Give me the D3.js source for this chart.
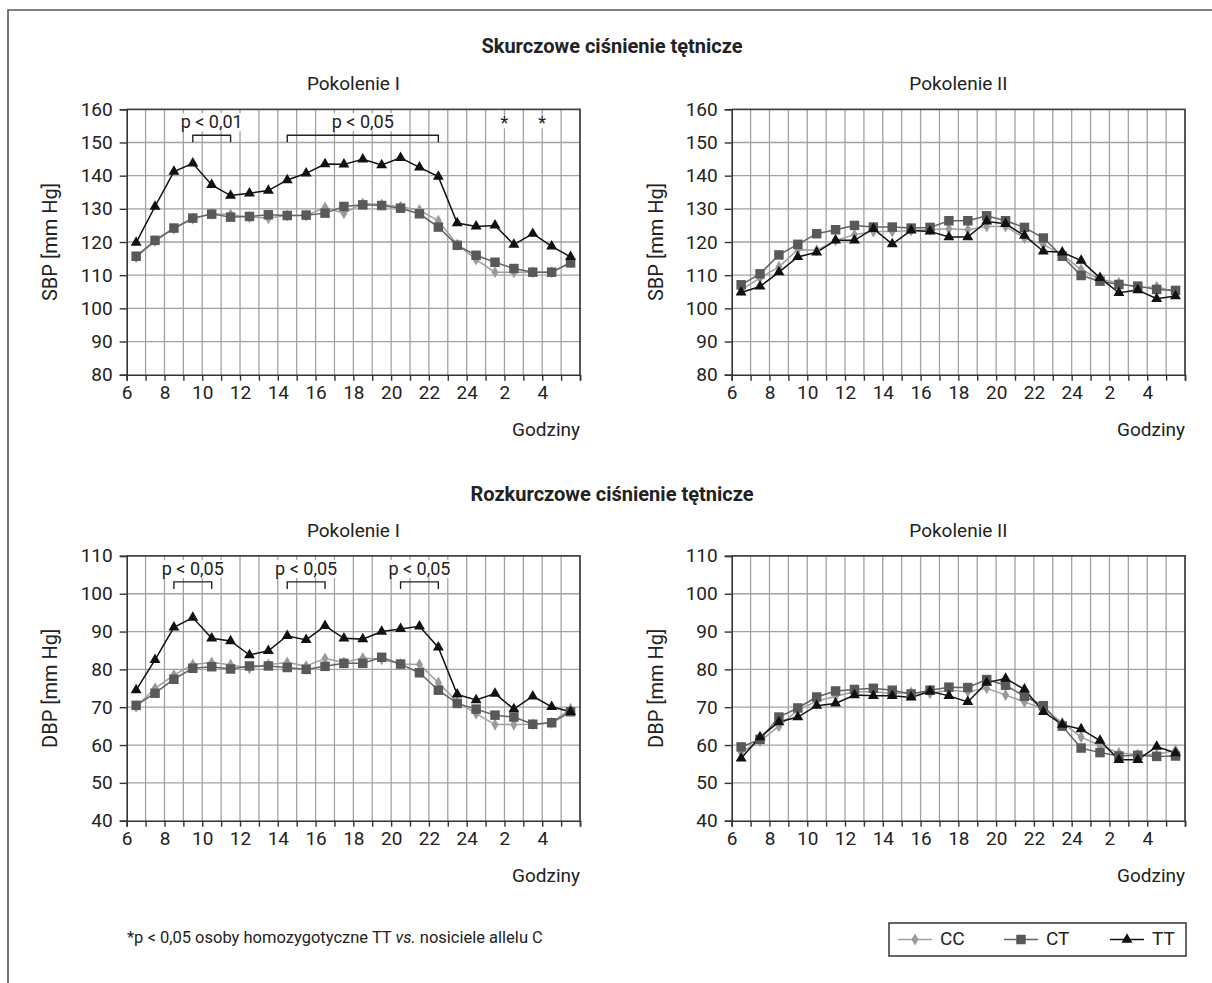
<!DOCTYPE html>
<html>
<head>
<meta charset="utf-8">
<script src="https://cdn.jsdelivr.net/npm/d3@7"></script>
<style>
  html, body { margin: 0; padding: 0; background: #fff; }
  svg text { font-family: Roboto, "Liberation Sans", sans-serif; fill: #222; }
</style>
</head>
<body>
<svg id="chart" width="1212" height="983"></svg>
<script>
// ---------- DATA ----------
const hours = [6.5, 7.5, 8.5, 9.5, 10.5, 11.5, 12.5, 13.5, 14.5, 15.5, 16.5, 17.5,
               18.5, 19.5, 20.5, 21.5, 22.5, 23.5, 24.5, 25.5, 26.5, 27.5, 28.5, 29.5];
const xTickLabels = ["6", "8", "10", "12", "14", "16", "18", "20", "22", "24", "2", "4"];
const sbpTicks = [80, 90, 100, 110, 120, 130, 140, 150, 160];
const dbpTicks = [40, 50, 60, 70, 80, 90, 100, 110];
const genotypes = ["CC", "CT", "TT"];

// SBP, Pokolenie I
const sbpGen1CC = [115.4, 120.3, 124.0, 127.0, 128.5, 128.3, 127.5, 127.2, 128.0, 128.0, 130.4, 128.7,
                   131.6, 131.3, 130.6, 129.6, 126.4, 119.2, 114.7, 110.9, 110.9, 110.9, 110.9, 113.9];
const sbpGen1CT = [115.7, 120.5, 124.2, 127.2, 128.4, 127.5, 127.7, 128.2, 128.0, 128.1, 128.7, 130.7,
                   131.2, 131.0, 130.2, 128.5, 124.5, 119.0, 116.0, 113.9, 112.0, 110.9, 110.9, 113.7];
const sbpGen1TT = [119.8, 130.7, 141.2, 143.7, 137.2, 134.0, 134.7, 135.5, 138.7, 140.7, 143.5, 143.4,
                   144.9, 143.2, 145.4, 142.5, 139.7, 125.7, 124.7, 125.0, 119.2, 122.5, 118.7, 115.5];
// SBP, Pokolenie II
const sbpGen2CC = [105.6, 109.1, 112.5, 117.7, 117.5, 120.5, 122.2, 123.2, 123.2, 123.5, 123.7, 124.0,
                   123.7, 124.7, 124.7, 121.2, 119.2, 116.2, 111.7, 108.7, 107.7, 106.2, 106.5, 105.0];
const sbpGen2CT = [107.1, 110.4, 116.1, 119.3, 122.5, 123.7, 125.0, 124.5, 124.5, 124.2, 124.4, 126.4,
                   126.4, 127.9, 126.4, 124.4, 121.2, 115.7, 109.9, 108.2, 107.2, 106.7, 105.7, 105.4];
const sbpGen2TT = [104.8, 106.6, 110.9, 115.5, 116.9, 120.5, 120.5, 124.0, 119.4, 123.5, 123.2, 121.5,
                   121.5, 126.2, 125.5, 121.9, 117.2, 116.9, 114.4, 109.2, 104.7, 105.5, 102.9, 103.7];
// DBP, Pokolenie I
const dbpGen1CC = [70.1, 75.0, 78.5, 81.3, 81.8, 81.2, 80.3, 81.3, 81.8, 80.9, 82.9, 81.8,
                   83.0, 82.7, 81.4, 81.3, 76.5, 71.4, 68.3, 65.4, 65.4, 65.5, 65.9, 69.6];
const dbpGen1CT = [70.5, 73.7, 77.4, 80.3, 80.7, 80.1, 80.9, 80.9, 80.5, 80.0, 80.8, 81.6,
                   81.6, 83.2, 81.4, 79.1, 74.5, 71.0, 69.5, 67.9, 67.4, 65.5, 65.9, 68.8];
const dbpGen1TT = [74.5, 82.5, 91.1, 93.7, 88.2, 87.5, 83.8, 84.9, 88.9, 87.8, 91.5, 88.2,
                   88.0, 90.0, 90.7, 91.4, 85.8, 73.4, 71.9, 73.6, 69.5, 72.9, 70.1, 68.8];
// DBP, Pokolenie II
const dbpGen2CC = [58.1, 61.0, 65.0, 69.2, 71.6, 72.9, 74.1, 74.1, 73.6, 73.9, 73.7, 74.5,
                   74.1, 75.0, 73.2, 71.4, 69.6, 65.9, 62.1, 59.9, 57.9, 57.5, 57.5, 58.6];
const dbpGen2CT = [59.5, 61.5, 67.4, 69.8, 72.7, 74.3, 74.7, 75.0, 74.5, 73.5, 74.5, 75.3,
                   75.2, 77.3, 75.8, 72.9, 70.4, 65.0, 59.2, 58.0, 57.1, 57.3, 57.0, 57.1];
const dbpGen2TT = [56.5, 62.1, 66.1, 67.4, 70.4, 71.0, 73.2, 73.0, 73.0, 72.6, 74.2, 73.0,
                   71.4, 76.5, 77.6, 74.7, 68.8, 65.4, 64.2, 61.2, 56.1, 56.1, 59.6, 57.9];

// Significance brackets: [from hour, to hour, label]
const sbpGen1Brackets = [[9.5, 11.5, "p < 0,01"], [14.5, 22.5, "p < 0,05"]];
const sbpGen1Stars = [26, 28];
const dbpGen1Brackets = [[8.5, 10.5, "p < 0,05"], [14.5, 16.5, "p < 0,05"], [20.5, 22.5, "p < 0,05"]];

// ---------- STYLE ----------
const style = {
  CC: { color: "#9a9a9a", line: "#a0a0a0", symbol: d3.symbolDiamond, size: 42 },
  CT: { color: "#595959", line: "#636363", symbol: d3.symbolSquare, size: 90 },
  TT: { color: "#111111", line: "#111111", symbol: d3.symbolTriangle, size: 52 }
};
const FS = 19;

const svg = d3.select("#chart");

// outer frame (left + top)
svg.append("path")
  .attr("d", "M8,983 L8,10 L1212,10")
  .attr("fill", "none").attr("stroke", "#555").attr("stroke-width", 1.6);

function fmtHour(h) { return h > 24 ? String(h - 24) : String(h); }

function panel(opts) {
  const { x0, x1, yTop, yBot, domain, yTicks, ylabel, ylabelX, title, series, brackets, stars } = opts;
  const g = svg.append("g");
  const x = d3.scaleLinear().domain([6, 30]).range([x0, x1]);
  const y = d3.scaleLinear().domain(domain).range([yBot, yTop]);
  const hourTicks = d3.range(6, 31);
  const labelled = hours.map(h => h - 0.5).filter(h => h % 2 === 0);

  // gridlines
  g.append("g").selectAll("line").data(hourTicks.slice(1, -1)).join("line")
    .attr("x1", d => x(d)).attr("x2", d => x(d)).attr("y1", yTop).attr("y2", yBot)
    .attr("stroke", "#a2a2a2").attr("stroke-width", 1.3);
  g.append("g").selectAll("line").data(yTicks.slice(1, -1)).join("line")
    .attr("x1", x0).attr("x2", x1).attr("y1", d => y(d)).attr("y2", d => y(d))
    .attr("stroke", "#a2a2a2").attr("stroke-width", 1.3);

  // frame top/right
  g.append("path").attr("d", `M${x0},${yTop} L${x1},${yTop} L${x1},${yBot}`)
    .attr("fill", "none").attr("stroke", "#444").attr("stroke-width", 1.8);

  // axes
  const yAxis = d3.axisLeft(y).tickValues(yTicks).tickSize(7).tickPadding(7);
  const ya = g.append("g").attr("transform", `translate(${x0},0)`).call(yAxis);
  ya.select(".domain").attr("stroke", "#333").attr("stroke-width", 1.6);
  ya.selectAll(".tick line").attr("stroke", "#333").attr("stroke-width", 1.4);
  ya.selectAll(".tick text").attr("font-size", FS).attr("fill", "#222")
    .style("font-family", "Roboto, sans-serif");

  const xAxis = d3.axisBottom(x).tickValues(hourTicks).tickSize(6).tickPadding(5)
    .tickFormat(d => labelled.includes(d) ? xTickLabels[labelled.indexOf(d)] : "");
  const xa = g.append("g").attr("transform", `translate(0,${yBot})`).call(xAxis);
  xa.select(".domain").attr("stroke", "#333").attr("stroke-width", 1.6);
  xa.selectAll(".tick line").attr("stroke", "#333").attr("stroke-width", 1.4);
  xa.selectAll(".tick text").attr("font-size", FS).attr("fill", "#222")
    .style("font-family", "Roboto, sans-serif");

  // Godziny
  g.append("text").attr("x", x1).attr("y", yBot + 56).attr("text-anchor", "end")
    .attr("dominant-baseline", "middle").attr("font-size", FS).text("Godziny");

  // y label
  g.append("text").attr("transform", `translate(${ylabelX},${(yTop + yBot) / 2}) rotate(-90)`)
    .attr("text-anchor", "middle").attr("dominant-baseline", "middle").attr("font-size", 20).text(ylabel);

  // title
  g.append("text").attr("x", (x0 + x1) / 2).attr("y", yTop - 24).attr("text-anchor", "middle")
    .attr("dominant-baseline", "middle").attr("font-size", FS).text(title);

  // brackets
  (brackets || []).forEach(([a, b, label]) => {
    const by = yTop + 26;
    const cx = (x(a) + x(b)) / 2;
    g.append("path").attr("d", `M${x(a)},${by + 7} L${x(a)},${by} L${x(b)},${by} L${x(b)},${by + 7}`)
      .attr("fill", "none").attr("stroke", "#222").attr("stroke-width", 1.4);
    g.append("rect").attr("x", cx - 36).attr("y", yTop + 4).attr("width", 72).attr("height", 18)
      .attr("fill", "#fff");
    g.append("text").attr("x", cx).attr("y", yTop + 14).attr("text-anchor", "middle")
      .attr("dominant-baseline", "middle").attr("font-size", 18).text(label);
  });
  (stars || []).forEach(h => {
    g.append("rect").attr("x", x(h) - 5).attr("y", yTop + 7).attr("width", 10).attr("height", 12).attr("fill", "#fff");
    g.append("text").attr("x", x(h)).attr("y", yTop + 20).attr("text-anchor", "middle")
      .attr("font-size", 18).text("*");
  });

  // series lines
  genotypes.forEach(gt => {
    const st = style[gt];
    const pts = hours.map((h, i) => [h, series[gt][i]]);
    g.append("path").datum(pts)
      .attr("d", d3.line().x(d => x(d[0])).y(d => y(d[1])))
      .attr("fill", "none").attr("stroke", st.line).attr("stroke-width", 1.5);
  });
  // markers
  genotypes.forEach(gt => {
    const st = style[gt];
    const pts = hours.map((h, i) => [h, series[gt][i]]);
    g.append("g").selectAll("path").data(pts).join("path")
      .attr("transform", d => `translate(${x(d[0])},${y(d[1])})`)
      .attr("d", d3.symbol().type(st.symbol).size(st.size))
      .attr("fill", st.color);
  });
}

// main titles
svg.append("text").attr("x", 612).attr("y", 48).attr("text-anchor", "middle").attr("dominant-baseline", "middle")
  .attr("font-size", 20).attr("font-weight", "bold").text("Skurczowe ciśnienie tętnicze");
svg.append("text").attr("x", 612).attr("y", 496).attr("text-anchor", "middle").attr("dominant-baseline", "middle")
  .attr("font-size", 20).attr("font-weight", "bold").text("Rozkurczowe ciśnienie tętnicze");

const L = { x0: 126.7, x1: 580 }, R = { x0: 731.7, x1: 1185 };
const TOP = { yTop: 109.3, yBot: 374.7 }, BOT = { yTop: 555.9, yBot: 820.7 };

panel({ ...L, ...TOP, domain: [80, 160], yTicks: sbpTicks, ylabel: "SBP [mm Hg]", ylabelX: 52, title: "Pokolenie I",
  series: { CC: sbpGen1CC, CT: sbpGen1CT, TT: sbpGen1TT }, brackets: sbpGen1Brackets, stars: sbpGen1Stars });
panel({ ...R, ...TOP, domain: [80, 160], yTicks: sbpTicks, ylabel: "SBP [mm Hg]", ylabelX: 658, title: "Pokolenie II",
  series: { CC: sbpGen2CC, CT: sbpGen2CT, TT: sbpGen2TT } });
panel({ ...L, ...BOT, domain: [40, 110], yTicks: dbpTicks, ylabel: "DBP [mm Hg]", ylabelX: 52, title: "Pokolenie I",
  series: { CC: dbpGen1CC, CT: dbpGen1CT, TT: dbpGen1TT }, brackets: dbpGen1Brackets });
panel({ ...R, ...BOT, domain: [40, 110], yTicks: dbpTicks, ylabel: "DBP [mm Hg]", ylabelX: 658, title: "Pokolenie II",
  series: { CC: dbpGen2CC, CT: dbpGen2CT, TT: dbpGen2TT } });

// footnote
const fn = svg.append("text").attr("x", 127).attr("y", 939).attr("dominant-baseline", "middle").attr("font-size", 16.5);
fn.append("tspan").text("*p < 0,05 osoby homozygotyczne TT ");
fn.append("tspan").attr("font-style", "italic").text("vs.");
fn.append("tspan").text(" nosiciele allelu C");

// legend
const leg = svg.append("g");
leg.append("rect").attr("x", 889).attr("y", 923).attr("width", 297).attr("height", 33)
  .attr("fill", "#fff").attr("stroke", "#333").attr("stroke-width", 1.5);
const legX = { CC: 898, CT: 1004, TT: 1110 };
genotypes.forEach(gt => {
  const st = style[gt];
  const lx = legX[gt];
  leg.append("line").attr("x1", lx).attr("x2", lx + 34).attr("y1", 939.5).attr("y2", 939.5)
    .attr("stroke", st.line).attr("stroke-width", 1.5);
  leg.append("path").attr("transform", `translate(${lx + 17},939.5)`)
    .attr("d", d3.symbol().type(st.symbol).size(st.size)).attr("fill", st.color);
  leg.append("text").attr("x", lx + 42).attr("y", 940).attr("dominant-baseline", "middle")
    .attr("font-size", FS).text(gt);
});
</script>
</body>
</html>
